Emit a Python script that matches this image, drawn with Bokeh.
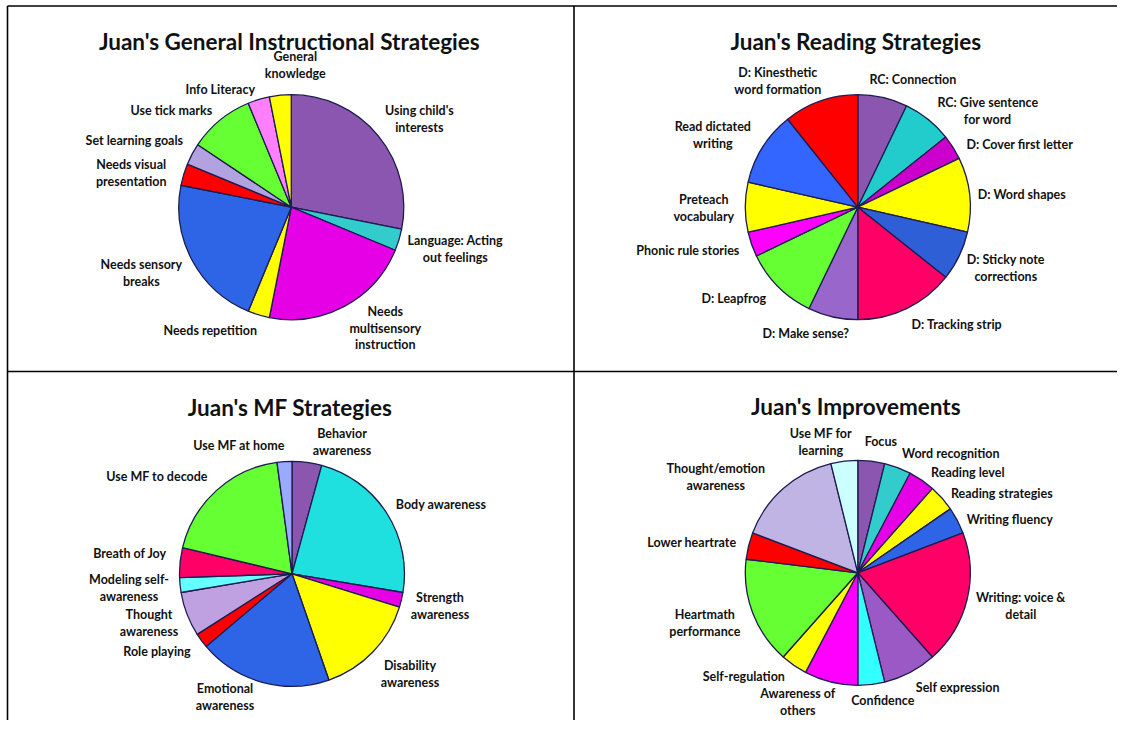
import math
from bokeh.plotting import figure
from bokeh.models import Range1d
from bokeh.core.properties import value
from bokeh.embed import file_html
from bokeh.resources import INLINE

# ---------------- DATA ----------------
gen_title = "Juan's General Instructional Strategies"
gen_labels = ["Using child's\ninterests", "Language: Acting\nout feelings", "Needs\nmultisensory\ninstruction",
              "Needs repetition", "Needs sensory\nbreaks", "Needs visual\npresentation", "Set learning goals",
              "Use tick marks", "Info Literacy", "General\nknowledge"]
gen_values = [9, 1, 7, 1, 7, 1, 1, 3, 1, 1]

read_title = "Juan's Reading Strategies"
read_labels = ["RC: Connection", "RC: Give sentence\nfor word", "D: Cover first letter", "D: Word shapes",
               "D: Sticky note\ncorrections", "D: Tracking strip", "D: Make sense?", "D: Leapfrog",
               "Phonic rule stories", "Preteach\nvocabulary", "Read dictated\nwriting",
               "D: Kinesthetic\nword formation"]
read_values = [2, 2, 1, 3, 2, 4, 2, 3, 1, 2, 3, 3]

mf_title = "Juan's MF Strategies"
mf_labels = ["Behavior\nawareness", "Body awareness", "Strength\nawareness", "Disability\nawareness",
             "Emotional\nawareness", "Role playing", "Thought\nawareness", "Modeling self-\nawareness",
             "Breath of Joy", "Use MF to decode", "Use MF at home"]
mf_values = [2, 11, 1, 7, 9, 1, 3, 1, 2, 9, 1]

imp_title = "Juan's Improvements"
imp_labels = ["Focus", "Word recognition", "Reading level", "Reading strategies", "Writing fluency",
              "Writing: voice &\ndetail", "Self expression", "Confidence", "Awareness of\nothers",
              "Self-regulation", "Heartmath\nperformance", "Lower heartrate",
              "Thought/emotion\nawareness", "Use MF for\nlearning"]
imp_values = [1, 1, 1, 1, 1, 5, 2, 1, 2, 1, 4, 1, 4, 1]

# ---------------- STYLE / LAYOUT ----------------
gen_colors = ["#8B56B0", "#33CCCC", "#E600E6", "#FFFF00", "#2E64E6", "#FF0000", "#B3A2E0",
              "#66FF33", "#FF80FF", "#FFFF00"]
read_colors = ["#8B56B0", "#22CCCC", "#CC00CC", "#FFFF00", "#2E5FD6", "#FF0066", "#9966CC",
               "#66FF33", "#FF00FF", "#FFFF00", "#3366FF", "#FF0000"]
mf_colors = ["#8B56B0", "#1FDFDF", "#E600E6", "#FFFF00", "#2E64E6", "#FF0000", "#BFA0E0",
             "#66FFFF", "#FF0066", "#66FF33", "#99AAFF"]
imp_colors = ["#8B56B0", "#33CCCC", "#E600E6", "#FFFF00", "#2E64E6", "#FF0066", "#9B59C6",
              "#33FFFF", "#FF00FF", "#FFFF00", "#66FF33", "#FF0000", "#C0B4E4", "#CCFFFF"]

# label offsets from the pie centre (screen px, y downwards)
gen_off = [(128, -88), (164, 42), (94, 121), (-81, 123), (-150, 66), (-160, -34), (-157, -67),
           (-120, -97), (-71, -118), (4, -142)]
read_off = [(55, -128), (130, -96), (162, -63), (164, -13), (148, 61), (99, 117), (-52, 126),
            (-124, 91), (-170, 43), (-154, 1), (-145, -72), (-80, -126)]
mf_off = [(50, -132), (149, -69), (148, 32), (118, 100), (-67, 123), (-135, 78), (-143, 49),
          (-163, 14), (-162, -20), (-135, -97), (-53, -128)]
imp_off = [(23, -131), (93, -119), (110, -100), (144, -79), (152, -53), (163, 33), (100, 115),
           (25, 128), (-60, 129), (-114, 104), (-153, 50), (-166, -30), (-142, -96), (-37, -131)]

PW, PH = 1117, 720
R = 112.5
FONT = "Lato"

def sy(y):
    return PH - y

p = figure(width=PW, height=PH, x_range=Range1d(0, PW), y_range=Range1d(0, PH),
           output_backend="svg", toolbar_location=None, min_border=0)
p.axis.visible = False
p.grid.visible = False
p.outline_line_color = None
p.background_fill_color = "white"

# panel borders
p.line([7, PW], [sy(5.5), sy(5.5)], line_color="black", line_width=1.6)
p.line([7, 7], [sy(5.5), sy(PH)], line_color="black", line_width=1.6)
p.line([573.5, 573.5], [sy(5.5), sy(PH)], line_color="black", line_width=1.6)
p.line([7, PW], [sy(371), sy(371)], line_color="black", line_width=1.6)

def draw_pie(cx, cy, title, labels, values, colors, offs):
    total = float(sum(values))
    starts, ends = [], []
    acc = 0.0
    for v in values:
        t0 = acc / total * 2 * math.pi
        acc += v
        t1 = acc / total * 2 * math.pi
        starts.append(math.pi / 2 - t1)
        ends.append(math.pi / 2 - t0)
    p.wedge(x=[cx] * len(values), y=[sy(cy)] * len(values), radius=R,
            start_angle=starts, end_angle=ends, fill_color=colors,
            line_color="#1C1C50", line_width=1.3)
    p.text(x=[cx + o[0] for o in offs], y=[sy(cy + o[1]) for o in offs], text=labels,
           text_align="center", text_baseline="middle", text_font=value(FONT),
           text_font_style="bold", text_font_size="12.5px", text_line_height=1.1,
           text_color="#111111")
    p.text(x=[cx - 2], y=[sy(cy - 166)], text=[title], text_align="center",
           text_baseline="middle", text_font=value(FONT), text_font_style="bold",
           text_font_size="22.5px", text_color="#111111")

draw_pie(290.8, 206.7, gen_title, gen_labels, gen_values, gen_colors, gen_off)
draw_pie(857.3, 206.7, read_title, read_labels, read_values, read_colors, read_off)
draw_pie(291.5, 573.3, mf_title, mf_labels, mf_values, mf_colors, mf_off)
draw_pie(857.3, 572.3, imp_title, imp_labels, imp_values, imp_colors, imp_off)

open("out.html", "w").write(file_html(p, INLINE))
